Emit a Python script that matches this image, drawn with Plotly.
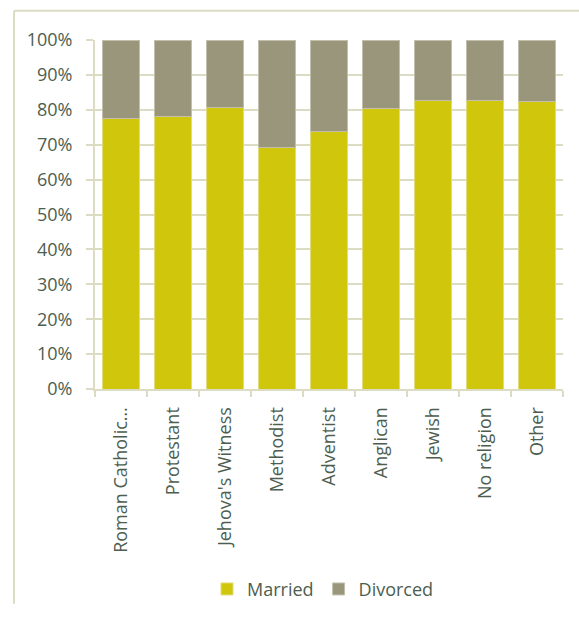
import plotly.graph_objects as go

categories = ["Roman Catholic…", "Protestant", "Jehova's Witness", "Methodist",
              "Adventist", "Anglican", "Jewish", "No religion", "Other"]
married = [77.6, 78.2, 80.6, 69.2, 73.9, 80.5, 82.8, 82.8, 82.5]
divorced = [22.4, 21.8, 19.4, 30.8, 26.1, 19.5, 17.2, 17.2, 17.5]

W, H = 579, 620
L, R, T, B = 95, 16, 40, 221
PW, PH = W - L - R, H - T - B

TEXT = "#4d5e4f"
GRID = "#dcdbc4"
FONT = "Open Sans"
FS = 18

fig = go.Figure()
fig.add_trace(go.Bar(x=categories, y=married, name="Married",
                     marker=dict(color="#d0c60c", line=dict(color="#e2dc7a", width=1))))
fig.add_trace(go.Bar(x=categories, y=divorced, name="Divorced",
                     marker=dict(color="#99967b", line=dict(color="#c2c0ad", width=1))))


def px_x(p):
    return (p - L) / PW


def px_y(p):
    return 1 - (p - T) / PH


fig.update_layout(
    width=W, height=H,
    margin=dict(l=L, r=R, t=T, b=B, pad=0),
    barmode="stack",
    bargap=0.29,
    plot_bgcolor="white",
    paper_bgcolor="white",
    font=dict(family=FONT, size=FS, color=TEXT),
    xaxis=dict(
        tickangle=-90,
        showgrid=False,
        showline=True, linecolor=GRID, linewidth=2,
        ticks="outside", tickson="boundaries", ticklen=6, tickcolor=GRID, tickwidth=2,
        ticklabelstandoff=9,
        tickfont=dict(family=FONT, size=FS, color=TEXT),
    ),
    yaxis=dict(
        range=[0, 100],
        tickvals=list(range(0, 101, 10)),
        ticktext=[f"{v}%" for v in range(0, 101, 10)],
        showgrid=True, gridcolor=GRID, gridwidth=2,
        showline=True, linecolor=GRID, linewidth=2,
        ticks="outside", ticklen=7, tickcolor=GRID, tickwidth=2,
        ticklabelstandoff=10,
        zeroline=False,
        tickfont=dict(family=FONT, size=FS, color=TEXT),
    ),
    legend=dict(
        orientation="h",
        x=px_x(323), xanchor="center",
        y=px_y(605), yanchor="middle",
        font=dict(family=FONT, size=FS, color=TEXT),
        traceorder="normal",
        itemwidth=30,
    ),
    shapes=[
        dict(type="line", xref="paper", yref="paper",
             x0=px_x(14), x1=px_x(W), y0=px_y(10), y1=px_y(10),
             line=dict(color=GRID, width=2)),
        dict(type="line", xref="paper", yref="paper",
             x0=px_x(14), x1=px_x(14), y0=px_y(10), y1=px_y(H),
             line=dict(color=GRID, width=2)),
    ],
)

# drop the default body margin so the figure sits at the page corner
fig.write_html("out.html", config={"displayModeBar": False},
               post_script="document.body.style.margin='0';")
